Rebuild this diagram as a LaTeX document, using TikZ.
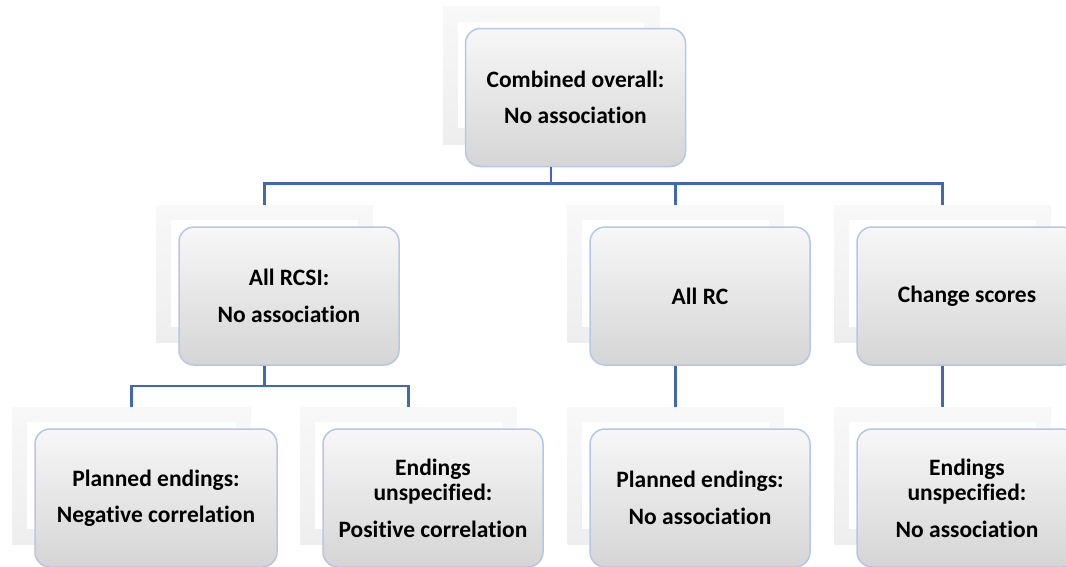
\documentclass[tikz,border=0pt]{standalone}
\usepackage{fontspec}
\setmainfont{Carlito}[Ligatures=NoCommon]
\usepackage{tikz}
\usetikzlibrary{positioning,calc,fit,backgrounds}
\usepackage{xcolor}
\definecolor{linkblue}{RGB}{66,104,178}
\definecolor{cardedge}{RGB}{180,199,231}
\definecolor{cardtop}{RGB}{247,247,247}
\definecolor{cardbot}{RGB}{213,213,213}
\definecolor{frametop}{RGB}{248,248,248}
\definecolor{framemid}{RGB}{222,222,222}
\definecolor{framebot}{RGB}{238,238,238}
\newcommand{\gap}{\\[11pt]}

\begin{document}
\begin{tikzpicture}[x=1pt, y=-1pt,
    card/.style={draw=cardedge, line width=1.5pt, rounded corners=15pt,
        top color=cardtop, bottom color=cardbot,
        minimum width=220pt, minimum height=138pt, inner sep=0pt,
        align=center, font=\bfseries\fontsize{23.5}{25.5}\selectfont},
    backing/.style={inner sep=0pt, top color=frametop, middle color=framemid, bottom color=framebot},
    hole/.style={inner sep=0pt, fill=white},
    link/.style={draw=linkblue, line width=2.5pt}]
    \useasboundingbox (0,0) rectangle (1066,566);
    \clip (0,0) rectangle (1066,566);

    % Cards
    \node[card] (top) at (575.5,97.5) {Combined overall:\gap No association};
    \node[card] (rcsi) at (289,296) {All RCSI:\gap No association};
    \node[card] (allrc) at (700,296) {All RC};
    \node[card] (change) at (967,296) {Change scores};
    \node[card, minimum width=242pt] (negcorr) at (156,498) {Planned endings:\gap Negative correlation};
    \node[card] (poscorr) at (433,498) {Endings\\unspecified:\gap Positive correlation};
    \node[card] (rcplan) at (700,498) {Planned endings:\gap No association};
    \node[card] (chunspec) at (967,498) {Endings\\unspecified:\gap No association};

    % Frames behind the cards
    \begin{scope}[on background layer]
        \foreach \card in {top,rcsi,allrc,change,negcorr,poscorr,rcplan,chunspec} {
            \node[backing, fit={($(\card.north west)+(-22pt,21pt)$) ($(\card.south east)+(-27pt,23pt)$)}] (\card bk) {};
            \node[hole, fit={($(\card bk.north west)+(15pt,-15pt)$) ($(\card bk.south east)+(-15pt,16pt)$)}] {};
        }
    \end{scope}

    % Connectors
    \draw[link] (topbk.south |- top.south) -- ++(0,16) -| (rcsibk.north);
    \draw[link] (topbk.south |- top.south) -- ++(0,16) -| (allrcbk.north);
    \draw[link] (topbk.south |- top.south) -- ++(0,16) -| (changebk.north);
    \draw[link] (rcsibk.south |- rcsi.south) -- ++(0,20) -| (negcorrbk.north);
    \draw[link] (rcsibk.south |- rcsi.south) -- ++(0,20) -| (poscorrbk.north);
    \draw[link] (allrcbk.south |- allrc.south) -- (rcplanbk.north);
    \draw[link] (changebk.south |- change.south) -- (chunspecbk.north);
\end{tikzpicture}
\end{document}
